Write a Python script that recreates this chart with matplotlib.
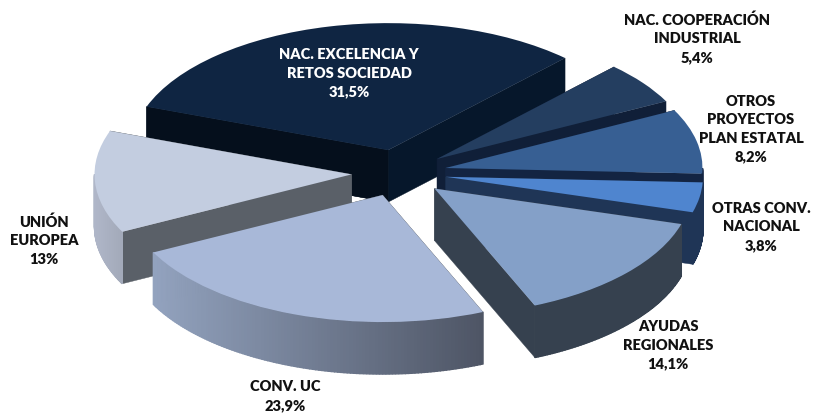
import numpy as np
import matplotlib
matplotlib.use('Agg')
import matplotlib.pyplot as plt
from matplotlib.collections import PolyCollection
from matplotlib.colors import to_rgb

plt.rcParams['font.family'] = ['Lato', 'DejaVu Sans']

labels = ['NAC. EXCELENCIA Y\nRETOS SOCIEDAD', 'NAC. COOPERACIÓN\nINDUSTRIAL',
          'OTROS\nPROYECTOS\nPLAN ESTATAL', 'OTRAS CONV.\nNACIONAL',
          'AYUDAS\nREGIONALES', 'CONV. UC', 'UNIÓN\nEUROPEA']
values = [31.5, 5.4, 8.2, 3.8, 14.1, 23.9, 13]

top_colors = ['#0f2542', '#243e60', '#375f93', '#4f85cf', '#84a0c8', '#a8b8d8', '#c3cde0']
face_colors = ['#06172b', '#101f38', '#132442', '#1f3556', '#36414f', '#5a6068', '#5a6068']
rim_left = ['#06172b', '#101f38', '#132442', '#1f3556', '#36414f', '#93a3bf', '#b0b7c9']
rim_right = ['#06172b', '#101f38', '#132442', '#1f3556', '#36414f', '#4e5565', '#a3aaba']
draw_order = [0, 1, 2, 3, 4, 6, 5]

# centre, radii and depth of the pie in pixels
W, H = 821, 417
cx, cy = 399, 173
rx, ry = 257, 127
depth = 52 / ry

fig = plt.figure(figsize=(W / 100, H / 100), dpi=100)
ax = fig.add_axes([0, 0, 1, 1])
wedges, _ = ax.pie(values, explode=[0.185] * len(values), startangle=160, counterclock=False,
                   colors=top_colors, wedgeprops={'linewidth': 0})
ax.set_aspect('auto')
ax.set_xlim(-cx / rx, (W - cx) / rx)
ax.set_ylim((cy - H) / ry, cy / ry)


def edge_point(w, deg):
    t = np.deg2rad(deg)
    return w.center[0] + np.cos(t), w.center[1] + np.sin(t)


for z, i in enumerate(draw_order):
    w = wedges[i]
    x0, y0 = w.center
    # the two cut faces, whatever faces away ends up under the top
    for deg in (w.theta1, w.theta2):
        x1, y1 = edge_point(w, deg)
        ax.fill([x0, x1, x1, x0], [y0, y1, y1 - depth, y0 - depth],
                color=face_colors[i], lw=0.3, zorder=z * 3 + 1)
    if i == 0:
        # the left cut of the big slice is a bit darker
        x1, y1 = edge_point(w, w.theta2)
        ax.fill([x0, x1, x1, x0], [y0, y1, y1 - depth, y0 - depth],
                color='#050f1c', lw=0.3, zorder=z * 3 + 1)
    # outer rim, only the part turned to the viewer
    angles = np.linspace(w.theta1, w.theta2, 121)
    strips, cols = [], []
    xs = w.center[0] + np.cos(np.deg2rad(angles))
    for a, b in zip(angles[:-1], angles[1:]):
        if np.sin(np.deg2rad((a + b) / 2)) > 0:
            continue
        xa, ya = edge_point(w, a)
        xb, yb = edge_point(w, b)
        strips.append([(xa, ya), (xb, yb), (xb, yb - depth), (xa, ya - depth)])
        f = ((xa + xb) / 2 - xs.min()) / (xs.max() - xs.min())
        cols.append(tuple((1 - f) * np.array(to_rgb(rim_left[i])) + f * np.array(to_rgb(rim_right[i]))))
    if strips:
        ax.add_collection(PolyCollection(strips, facecolors=cols, edgecolors=cols, linewidths=1.0,
                                         capstyle='butt', joinstyle='miter', zorder=z * 3 + 2))
    w.set_zorder(z * 3 + 3)


def pct(v):
    return ('%g' % v).replace('.', ',') + '%'


# label anchors in pixels (centre x, centre y)
anchors = [(349, 73), (697, 38), (751, 129), (761, 227), (668, 345), (285, 396), (44, 240)]
for i, (lab, v) in enumerate(zip(labels, values)):
    ax.text(anchors[i][0] / W, 1 - anchors[i][1] / H, lab + '\n' + pct(v), transform=ax.transAxes,
            ha='center', va='center', fontsize=10.5, fontweight=800, linespacing=1.5,
            color='white' if i == 0 else '#111111', zorder=50)

fig.savefig('out.png', dpi=100)
